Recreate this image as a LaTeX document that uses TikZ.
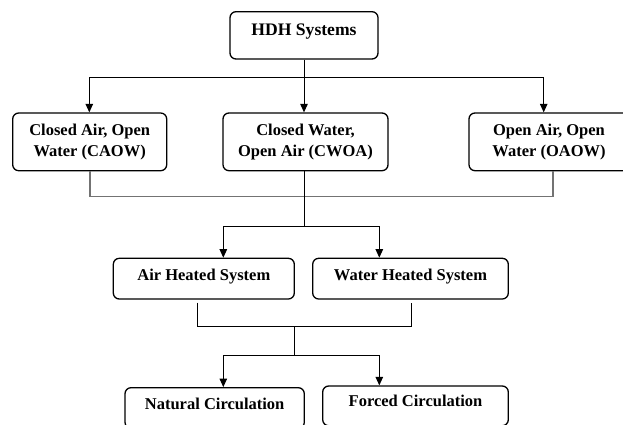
\documentclass[tikz,border=0pt]{standalone}
\usepackage{fontspec}
\setmainfont{Liberation Serif}
\usetikzlibrary{arrows.meta,calc}
\begin{document}
\begin{tikzpicture}[x=1pt,y=-1pt,
  box/.style={draw, line width=1.3pt, rounded corners=6pt, inner sep=0pt, align=center,
    font=\fontsize{16.5}{20.7}\selectfont\bfseries},
  conn/.style={line width=1pt},
  gconn/.style={line width=1.3pt, draw=black!55},
  arr/.style={conn,-{Triangle[width=7.5pt,length=8.5pt]}},
]
\useasboundingbox (0,0) rectangle (623,424);
% level 0
\node[box, font=\fontsize{17.6}{21}\selectfont\bfseries, minimum width=148pt, text height=23.3pt, text depth=24pt, anchor=base] (hdh) at (304,35) {HDH Systems};
% level 1
\node[box, minimum width=154pt, minimum height=57.7pt] (caow) at (89.7,141.85) {Closed Air, Open\\Water (CAOW)};
\node[box, minimum width=165pt, minimum height=57.7pt] (cwoa) at (305.5,141.85) {Closed Water,\\Open Air (CWOA)};
\node[box, minimum width=160pt, minimum height=57.7pt] (oaow) at (549,141.85) {Open Air, Open\\Water (OAOW)};
% level 2
\node[box, minimum width=181pt, text height=21.7pt, text depth=19pt, anchor=base] (air) at (203.8,280) {Air Heated System};
\node[box, minimum width=195.6pt, text height=21.7pt, text depth=19pt, anchor=base] (water) at (410.5,280) {Water Heated System};
% level 3
\node[box, minimum width=179.3pt, text height=21.6pt, text depth=19pt, anchor=base] (nat) at (214.65,409.3) {Natural Circulation};
\node[box, minimum width=185.6pt, text height=20.7pt, text depth=19pt, anchor=base] (forced) at (415.5,406.7) {Forced Circulation};

% connectors level 0 -> 1
\coordinate (b1) at (89.3,77.3);
\coordinate (b3) at (543.7,77.3);
\draw[conn] (b1) -- (b3);
\draw[arr] (b1) -- (b1 |- caow.north);
\draw[arr] (hdh.south) -- (hdh.south |- cwoa.north);
\draw[arr] (b3) -- (b3 |- oaow.north);

% gray collector
\coordinate (g1) at (90,196.7);
\coordinate (g2) at (553,196.7);
\draw[gconn] (g1 |- caow.south) -- (g1) -- (g2) -- (g2 |- oaow.south);

% level 1 -> 2
\coordinate (j2) at (304,226);
\draw[conn] (cwoa.south -| j2) -- (j2);
\coordinate (b4) at (223.3,226);
\coordinate (b5) at (379.3,226);
\draw[conn] (b4) -- (b5);
\draw[arr] (b4) -- (b4 |- air.north);
\draw[arr] (b5) -- (b5 |- water.north);

% level 2 -> 3
\coordinate (c1) at (197.3,326);
\coordinate (c2) at (411.7,326);
\draw[conn] ($(c1 |- air.south)+(0,3)$) -- (c1) -- (c2) -- ($(c2 |- water.south)+(0,3)$);
\coordinate (j3) at (294.3,326);
\coordinate (j4) at (294.3,355);
\draw[conn] (j3) -- (j4);
\coordinate (b6) at (223.3,355);
\coordinate (b7) at (379.3,355);
\draw[conn] (b6) -- (b7);
\draw[arr] (b6) -- (b6 |- nat.north);
\draw[arr] (b7) -- (b7 |- forced.north);
\end{tikzpicture}
\end{document}
